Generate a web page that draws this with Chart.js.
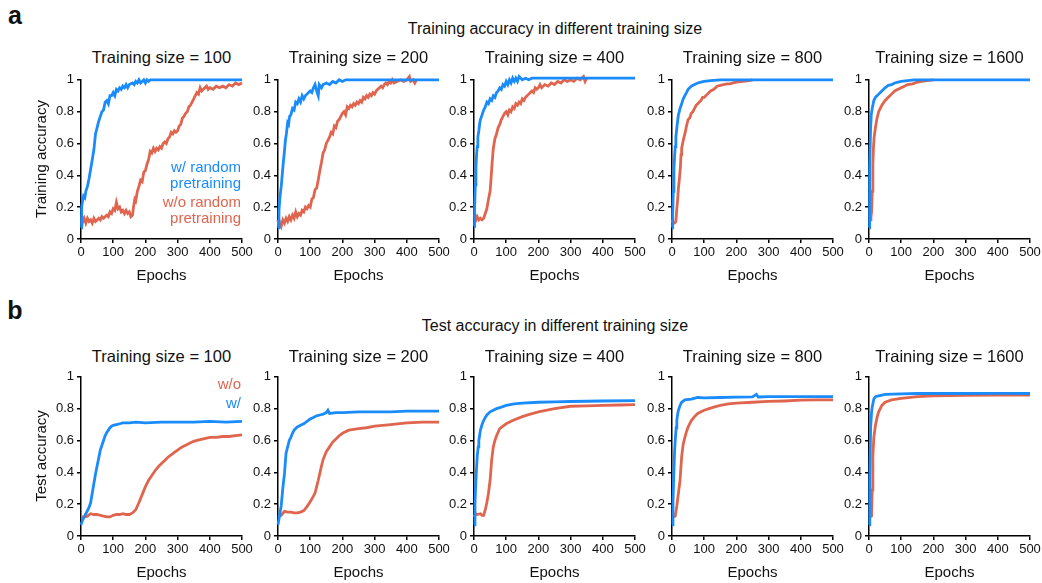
<!DOCTYPE html>
<html>
<head>
<meta charset="utf-8">
<script src="https://cdn.jsdelivr.net/npm/chart.js@4.4.1/dist/chart.umd.min.js"></script>
<style>
  body { margin: 0; background: #fff; }
  #wrap { position: relative; width: 1042px; height: 583px; overflow: hidden; font-family: "Liberation Sans", Arial, sans-serif; color: #111; }
  #wrap canvas { position: absolute; }
  .t { position: absolute; white-space: nowrap; line-height: 1; }
</style>
</head>
<body>
<div id="wrap"></div>
<script>
// training set sizes, one column each
var sizes = [100, 200, 400, 800, 1600];
var xTicks = [0, 100, 200, 300, 400, 500];
var yTicks = [0, 0.2, 0.4, 0.6, 0.8, 1];

// [epoch, accuracy]; W = with random pretraining, Wo = without
var trainW100 = [[0,0.07],[2,0.2],[5,0.24],[8,0.27],[12,0.26],[15,0.3],[20,0.33],[25,0.38],[30,0.44],[35,0.5],[40,0.56],[45,0.66],[50,0.7],[55,0.74],[60,0.77],[65,0.8],[70,0.81],[75,0.86],[80,0.87],[85,0.85],[90,0.9],[95,0.9],[100,0.92],[105,0.9],[110,0.94],[115,0.93],[120,0.95],[125,0.94],[130,0.96],[135,0.95],[140,0.97],[145,0.95],[150,0.97],[160,0.98],[165,0.97],[170,0.99],[175,0.98],[180,1.0],[185,0.98],[190,0.99],[195,1.0],[200,0.98],[205,1.0],[210,0.99],[215,1.0],[500,1.0]];
var trainWo100 = [[0,0.09],[3,0.14],[6,0.11],[10,0.13],[15,0.1],[20,0.13],[25,0.11],[30,0.12],[35,0.1],[40,0.13],[45,0.11],[50,0.12],[55,0.13],[60,0.12],[65,0.14],[70,0.13],[75,0.14],[80,0.15],[85,0.14],[90,0.17],[95,0.16],[100,0.19],[105,0.18],[110,0.23],[115,0.19],[120,0.2],[125,0.17],[130,0.18],[135,0.16],[140,0.18],[145,0.16],[150,0.17],[155,0.14],[160,0.15],[163,0.2],[167,0.25],[170,0.24],[175,0.3],[180,0.33],[185,0.37],[190,0.36],[195,0.42],[200,0.43],[205,0.47],[210,0.5],[215,0.55],[220,0.54],[225,0.57],[230,0.55],[235,0.57],[240,0.56],[245,0.58],[250,0.57],[255,0.6],[260,0.61],[265,0.6],[270,0.63],[275,0.64],[280,0.67],[285,0.66],[290,0.68],[295,0.67],[300,0.68],[305,0.71],[310,0.72],[315,0.76],[320,0.77],[325,0.79],[330,0.8],[335,0.83],[340,0.84],[345,0.86],[350,0.88],[355,0.9],[360,0.92],[365,0.91],[370,0.95],[375,0.93],[380,0.94],[390,0.96],[395,0.94],[400,0.95],[410,0.94],[420,0.96],[430,0.95],[440,0.96],[450,0.95],[460,0.97],[470,0.96],[480,0.98],[490,0.97],[500,0.98]];
var trainW200 = [[0,0.07],[3,0.18],[6,0.26],[10,0.33],[13,0.4],[16,0.47],[20,0.55],[23,0.62],[26,0.66],[30,0.73],[33,0.72],[36,0.77],[40,0.78],[45,0.82],[50,0.81],[55,0.86],[60,0.85],[65,0.88],[70,0.86],[75,0.9],[80,0.88],[85,0.9],[90,0.91],[95,0.92],[100,0.93],[105,0.92],[110,0.95],[115,0.97],[120,0.93],[125,0.9],[128,0.97],[135,0.95],[140,0.97],[150,0.98],[160,0.97],[170,0.99],[180,0.98],[190,1.0],[200,0.99],[210,1.0],[500,1.0]];
var trainWo200 = [[0,0.12],[3,0.07],[6,0.1],[10,0.08],[15,0.12],[20,0.1],[25,0.13],[30,0.11],[35,0.14],[40,0.12],[45,0.15],[50,0.13],[55,0.17],[60,0.14],[65,0.16],[70,0.15],[75,0.18],[80,0.17],[85,0.2],[90,0.19],[95,0.21],[100,0.2],[105,0.25],[110,0.26],[115,0.31],[120,0.32],[125,0.37],[130,0.43],[135,0.48],[140,0.54],[145,0.56],[150,0.6],[155,0.62],[160,0.64],[165,0.67],[170,0.66],[175,0.71],[180,0.7],[185,0.74],[190,0.75],[195,0.77],[200,0.79],[205,0.8],[210,0.78],[215,0.83],[220,0.82],[225,0.84],[230,0.83],[235,0.85],[240,0.84],[245,0.86],[250,0.85],[255,0.87],[260,0.86],[265,0.89],[270,0.88],[275,0.9],[280,0.89],[285,0.91],[290,0.9],[295,0.92],[300,0.91],[305,0.93],[310,0.94],[315,0.95],[320,0.96],[325,0.95],[330,0.97],[335,0.98],[340,0.97],[345,0.99],[350,0.98],[355,1.0],[360,0.98],[370,0.99],[380,1.0],[390,0.99],[400,1.0],[408,1.02],[412,0.99],[420,1.0],[425,0.98],[430,1.0]];
var trainW400 = [[0,0.08],[2,0.2],[4,0.34],[6,0.45],[8,0.53],[10,0.58],[12,0.64],[15,0.68],[18,0.73],[20,0.75],[25,0.78],[30,0.81],[35,0.83],[40,0.86],[45,0.85],[50,0.88],[55,0.87],[60,0.9],[65,0.89],[70,0.92],[75,0.93],[80,0.95],[85,0.94],[90,0.97],[95,0.96],[100,0.99],[105,0.97],[110,1.0],[115,0.98],[120,1.01],[125,0.99],[130,1.01],[135,0.99],[140,1.02],[150,1.0],[160,1.01],[170,1.0],[180,1.01],[500,1.01]];
var trainWo400 = [[0,0.13],[3,0.15],[6,0.12],[10,0.14],[15,0.12],[20,0.13],[25,0.12],[30,0.13],[35,0.16],[40,0.19],[45,0.25],[50,0.3],[53,0.38],[56,0.47],[60,0.57],[65,0.63],[70,0.66],[75,0.7],[80,0.72],[85,0.75],[90,0.77],[95,0.79],[100,0.8],[105,0.78],[110,0.81],[115,0.8],[120,0.83],[125,0.82],[130,0.85],[135,0.84],[140,0.86],[145,0.85],[150,0.88],[155,0.87],[160,0.89],[165,0.9],[170,0.91],[175,0.92],[180,0.93],[185,0.92],[190,0.95],[195,0.94],[200,0.95],[205,0.97],[210,0.95],[220,0.97],[230,0.96],[240,0.98],[250,0.97],[260,0.99],[270,0.98],[280,1.0],[290,0.99],[300,1.0],[310,0.99],[320,1.01],[330,1.0],[340,1.02],[345,0.99],[350,1.01]];
var trainW800 = [[0,0.07],[2,0.15],[4,0.3],[6,0.44],[8,0.52],[10,0.58],[12,0.64],[15,0.7],[18,0.75],[20,0.78],[25,0.82],[30,0.85],[35,0.88],[40,0.9],[45,0.92],[50,0.94],[55,0.95],[60,0.96],[70,0.97],[80,0.98],[90,0.985],[100,0.99],[120,0.995],[150,1.0],[500,1.0]];
var trainWo800 = [[0,0.12],[4,0.1],[8,0.1],[12,0.11],[15,0.19],[18,0.26],[20,0.32],[23,0.38],[26,0.45],[28,0.53],[30,0.57],[33,0.6],[36,0.63],[40,0.66],[45,0.71],[50,0.75],[55,0.76],[60,0.79],[65,0.8],[70,0.82],[75,0.84],[80,0.85],[85,0.86],[90,0.87],[95,0.89],[100,0.89],[110,0.91],[120,0.93],[130,0.94],[140,0.96],[150,0.965],[160,0.97],[170,0.975],[180,0.975],[190,0.98],[200,0.985],[220,0.99],[240,0.995],[250,1.0]];
var trainW1600 = [[0,0.07],[1,0.2],[3,0.45],[5,0.7],[7,0.78],[10,0.82],[15,0.87],[20,0.89],[25,0.9],[30,0.91],[40,0.93],[50,0.95],[60,0.965],[70,0.97],[80,0.98],[90,0.985],[100,0.99],[120,0.995],[140,1.0],[500,1.0]];
var trainWo1600 = [[4,0.12],[6,0.14],[8,0.17],[10,0.3],[12,0.47],[14,0.58],[16,0.64],[20,0.7],[25,0.76],[30,0.8],[35,0.82],[40,0.84],[50,0.87],[60,0.89],[70,0.91],[80,0.93],[90,0.94],[100,0.95],[110,0.96],[120,0.97],[135,0.975],[150,0.985],[165,0.99],[180,0.995],[200,1.0]];

var testW100 = [[0,0.07],[5,0.1],[10,0.12],[15,0.14],[20,0.16],[25,0.18],[30,0.21],[35,0.27],[40,0.33],[45,0.39],[50,0.44],[55,0.49],[60,0.54],[65,0.57],[70,0.6],[75,0.63],[80,0.65],[85,0.665],[90,0.68],[95,0.69],[100,0.695],[110,0.7],[120,0.705],[130,0.71],[150,0.71],[170,0.715],[200,0.71],[250,0.715],[300,0.715],[350,0.715],[400,0.72],[450,0.715],[500,0.72]];
var testWo100 = [[0,0.12],[10,0.12],[20,0.125],[30,0.14],[40,0.135],[50,0.135],[60,0.13],[70,0.125],[80,0.12],[90,0.12],[100,0.13],[110,0.135],[120,0.135],[130,0.14],[140,0.135],[150,0.135],[160,0.145],[170,0.165],[180,0.21],[190,0.26],[200,0.31],[210,0.35],[220,0.38],[230,0.41],[240,0.435],[250,0.455],[260,0.475],[270,0.495],[280,0.51],[290,0.525],[300,0.54],[310,0.555],[320,0.565],[330,0.575],[340,0.585],[350,0.595],[360,0.6],[370,0.605],[380,0.61],[390,0.615],[400,0.62],[420,0.62],[440,0.625],[460,0.625],[480,0.63],[500,0.635]];
var testW200 = [[0,0.07],[5,0.13],[10,0.19],[15,0.3],[20,0.39],[25,0.52],[30,0.56],[35,0.6],[40,0.62],[45,0.645],[50,0.665],[55,0.675],[60,0.685],[70,0.695],[80,0.705],[90,0.72],[100,0.735],[110,0.745],[120,0.755],[130,0.76],[140,0.765],[150,0.775],[155,0.79],[160,0.77],[180,0.775],[200,0.775],[250,0.78],[300,0.78],[350,0.78],[400,0.785],[450,0.785],[500,0.785]];
var testWo200 = [[0,0.12],[10,0.13],[20,0.155],[30,0.15],[40,0.15],[50,0.145],[60,0.145],[70,0.15],[80,0.16],[90,0.185],[100,0.215],[110,0.25],[115,0.27],[120,0.31],[125,0.35],[130,0.395],[135,0.44],[140,0.48],[150,0.53],[160,0.56],[170,0.59],[180,0.61],[190,0.63],[200,0.645],[220,0.665],[250,0.675],[275,0.68],[300,0.69],[350,0.7],[400,0.71],[450,0.715],[500,0.715]];
var testW400 = [[0,0.07],[3,0.2],[5,0.31],[8,0.43],[10,0.5],[13,0.56],[15,0.6],[18,0.64],[20,0.665],[25,0.7],[30,0.725],[35,0.745],[40,0.76],[50,0.78],[60,0.79],[70,0.8],[85,0.81],[100,0.82],[125,0.83],[150,0.835],[200,0.84],[250,0.842],[300,0.845],[400,0.848],[500,0.85]];
var testWo400 = [[0,0.12],[5,0.14],[10,0.135],[20,0.14],[25,0.13],[30,0.13],[35,0.165],[40,0.21],[45,0.27],[50,0.35],[55,0.48],[60,0.56],[65,0.6],[70,0.63],[80,0.675],[90,0.69],[100,0.705],[120,0.725],[150,0.75],[175,0.765],[200,0.78],[250,0.8],[300,0.815],[350,0.818],[400,0.82],[450,0.823],[500,0.825]];
var testW800 = [[0,0.07],[3,0.2],[5,0.35],[8,0.53],[10,0.6],[13,0.68],[15,0.73],[18,0.77],[20,0.79],[25,0.82],[30,0.84],[40,0.855],[60,0.86],[80,0.87],[100,0.868],[150,0.87],[200,0.872],[250,0.874],[262,0.89],[268,0.873],[300,0.875],[400,0.875],[500,0.875]];
var testWo800 = [[5,0.12],[10,0.125],[15,0.19],[20,0.27],[25,0.35],[30,0.5],[35,0.58],[40,0.62],[45,0.655],[50,0.685],[60,0.725],[70,0.75],[80,0.77],[90,0.78],[100,0.79],[115,0.8],[130,0.81],[150,0.82],[175,0.83],[200,0.835],[250,0.84],[300,0.845],[350,0.848],[400,0.853],[450,0.855],[500,0.855]];
var testW1600 = [[0,0.07],[2,0.2],[3,0.35],[5,0.68],[8,0.78],[10,0.81],[15,0.86],[20,0.875],[30,0.88],[50,0.89],[100,0.893],[150,0.895],[200,0.895],[300,0.895],[400,0.896],[500,0.895]];
var testWo1600 = [[5,0.12],[8,0.125],[10,0.29],[12,0.5],[15,0.62],[20,0.695],[25,0.745],[30,0.78],[40,0.82],[50,0.84],[70,0.855],[100,0.865],[150,0.875],[200,0.88],[300,0.883],[400,0.885],[500,0.885]];

var trainW = [trainW100, trainW200, trainW400, trainW800, trainW1600];
var trainWo = [trainWo100, trainWo200, trainWo400, trainWo800, trainWo1600];
var testW = [testW100, testW200, testW400, testW800, testW1600];
var testWo = [testWo100, testWo200, testWo400, testWo800, testWo1600];

var BLUE = '#1a8bfb';
var RED = '#e0654e';
var plotLefts = [81, 278, 474, 672, 869];
var PW = 161, PH = 160;

Chart.defaults.font.family = '"Liberation Sans", Arial, sans-serif';
Chart.defaults.color = '#111';

var wrap = document.getElementById('wrap');

function text(str, x, y, size, opts) {
  opts = opts || {};
  var d = document.createElement('div');
  d.className = 't';
  d.textContent = str;
  d.style.fontSize = size + 'px';
  if (opts.bold) d.style.fontWeight = 'bold';
  if (opts.color) d.style.color = opts.color;
  if (opts.right) {
    d.style.right = (1042 - x) + 'px';
    d.style.top = y + 'px';
    d.style.transform = 'translateY(-50%)';
  } else {
    d.style.left = x + 'px';
    d.style.top = y + 'px';
    d.style.transform = 'translate(-50%,-50%)' + (opts.rot ? ' rotate(-90deg)' : '');
  }
  wrap.appendChild(d);
}

function pts(arr) {
  return arr.map(function (p) { return { x: p[0], y: p[1] }; });
}

function panel(left, top, wData, woData) {
  var c = document.createElement('canvas');
  c.width = 50 + PW + 14;
  c.height = 10 + PH + 46;
  c.style.left = (left - 50) + 'px';
  c.style.top = (top - 10) + 'px';
  wrap.appendChild(c);
  new Chart(c, {
    type: 'line',
    data: {
      datasets: [
        { data: pts(wData), borderColor: BLUE, borderWidth: 2.8, pointRadius: 0, tension: 0, clip: 6 },
        { data: pts(woData), borderColor: RED, borderWidth: 2.8, pointRadius: 0, tension: 0, clip: 6 }
      ]
    },
    options: {
      responsive: false,
      animation: false,
      layout: { padding: { top: 10, right: 14, left: 0, bottom: 0 } },
      plugins: { legend: { display: false }, tooltip: { enabled: false } },
      scales: {
        x: {
          type: 'linear', min: 0, max: 500,
          afterBuildTicks: function (s) { s.ticks = xTicks.map(function (v) { return { value: v }; }); },
          afterFit: function (s) { s.height = 46; },
          ticks: { font: { size: 13 }, padding: 2, maxRotation: 0 },
          grid: { drawOnChartArea: false, drawTicks: true, tickLength: 4, color: '#000', lineWidth: 1.5 },
          border: { display: true, color: '#000', width: 1.5 },
          title: { display: true, text: 'Epochs', font: { size: 15 }, padding: 0, color: '#111' }
        },
        y: {
          min: 0, max: 1,
          afterBuildTicks: function (s) { s.ticks = yTicks.map(function (v) { return { value: v }; }); },
          afterFit: function (s) { s.width = 50; },
          ticks: { font: { size: 13 }, padding: 3, callback: function (v) { return String(+v.toFixed(1)); } },
          grid: { drawOnChartArea: false, drawTicks: true, tickLength: 4, color: '#000', lineWidth: 1.5 },
          border: { display: true, color: '#000', width: 1.5 }
        }
      }
    }
  });
}

var TOP1 = 79, TOP2 = 376;
for (var i = 0; i < sizes.length; i++) {
  panel(plotLefts[i], TOP1, trainW[i], trainWo[i]);
  panel(plotLefts[i], TOP2, testW[i], testWo[i]);
  text('Training size = ' + sizes[i], plotLefts[i] + PW / 2, 57, 16.5);
  text('Training size = ' + sizes[i], plotLefts[i] + PW / 2, 356, 16.5);
}

text('a', 15, 15, 25, { bold: true });
text('b', 15, 310, 25, { bold: true });
text('Training accuracy in different training size', 555, 29, 16);
text('Test accuracy in different training size', 555, 326, 16);
text('Training accuracy', 40, 159, 15, { rot: true });
text('Test accuracy', 40, 456, 15, { rot: true });

text('w/ random', 241, 166, 15, { right: true, color: BLUE });
text('pretraining', 241, 182, 15, { right: true, color: BLUE });
text('w/o random', 241, 201, 15, { right: true, color: RED });
text('pretraining', 241, 217, 15, { right: true, color: RED });
text('w/o', 241, 383, 15, { right: true, color: RED });
text('w/', 241, 402, 15, { right: true, color: BLUE });
</script>
</body>
</html>
